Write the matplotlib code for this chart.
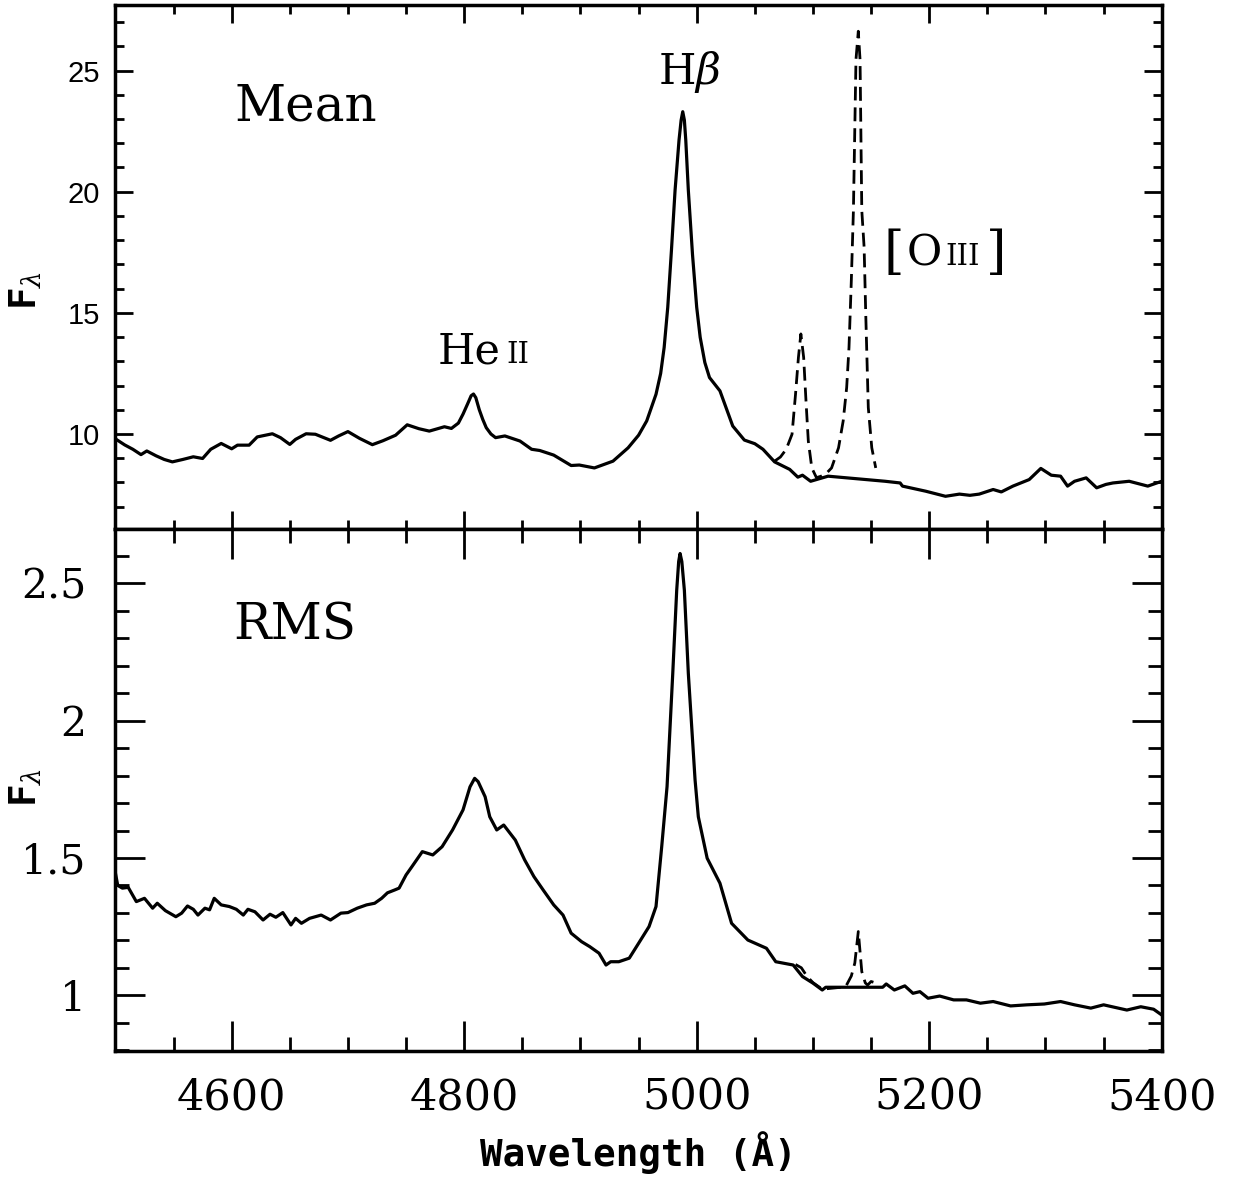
import numpy as np
import matplotlib
matplotlib.use('Agg')
from matplotlib import pyplot as plt
from matplotlib.ticker import MultipleLocator

# mean spectrum, [O III] removed (solid)
mean_wave = [4500, 4508, 4515, 4522, 4527, 4535, 4542, 4549, 4558, 4567,
             4575, 4582, 4591, 4600, 4605, 4615, 4622, 4635, 4642, 4650,
             4655, 4664, 4672, 4685, 4692, 4700, 4710, 4721, 4730, 4741,
             4751, 4761, 4770, 4783, 4789, 4795, 4799, 4803, 4806, 4808,
             4810, 4813, 4816, 4819, 4823, 4827,
             4835, 4848, 4858, 4865, 4877, 4892, 4899, 4912, 4928, 4941,
             4950, 4957, 4965, 4969, 4972, 4975.1, 4978.3, 4981.4, 4984.8, 4986.6,
             4988, 4989.4, 4990.6, 4992.8, 4996.4, 5000,
             5003, 5007, 5011, 5020, 5031, 5041, 5050, 5057, 5067, 5080, 5087,
             5091, 5098, 5113, 5162, 5175, 5177, 5197, 5214, 5226, 5235,
             5243, 5255, 5262, 5272, 5286, 5296, 5305, 5313, 5319, 5325,
             5335, 5344, 5352, 5358, 5372, 5388, 5400]
mean_flux = [9.80, 9.55, 9.37, 9.15, 9.30, 9.10, 8.95, 8.85, 8.95, 9.06,
             8.99, 9.37, 9.61, 9.39, 9.54, 9.54, 9.88, 10.01, 9.85, 9.57,
             9.78, 10.01, 9.99, 9.74, 9.92, 10.10, 9.82, 9.56, 9.72, 9.95,
             10.38, 10.22, 10.12, 10.30, 10.23, 10.45, 10.82, 11.25, 11.58, 11.65,
             11.50, 11.00, 10.60, 10.26, 10.00, 9.85,
             9.92, 9.71, 9.37, 9.32, 9.13, 8.70, 8.72, 8.60, 8.88, 9.43,
             9.95, 10.54, 11.64, 12.50, 13.57, 15.23, 17.60, 20.06, 22.13, 22.95,
             23.30, 22.95, 22.13, 20.06, 17.40, 15.23,
             13.99, 12.95, 12.33, 11.78, 10.33, 9.75, 9.60, 9.37, 8.85, 8.54, 8.22,
             8.30, 8.05, 8.26, 8.05, 7.98, 7.85, 7.64, 7.43, 7.52, 7.47,
             7.52, 7.71, 7.61, 7.85, 8.12, 8.58, 8.30, 8.26, 7.85, 8.05,
             8.19, 7.78, 7.92, 7.98, 8.05, 7.85, 8.05]

# mean spectrum with [O III] lines (dashed)
mean_oiii_wave = [5067, 5072, 5077, 5082, 5085, 5087.5, 5089.6, 5092, 5094, 5096,
                  5099, 5103, 5107, 5112, 5116, 5122, 5126, 5129, 5131, 5133,
                  5134.8, 5137, 5139, 5140.5, 5142, 5144, 5145.4, 5147.6, 5150.6, 5154]
mean_oiii_flux = [8.88, 9.05, 9.37, 9.99, 11.64, 13.16, 14.13, 13.16, 11.37, 9.71,
                  8.60, 8.20, 8.26, 8.40, 8.60, 9.43, 10.54, 11.92, 13.57, 16.33,
                  19.23, 25.45, 26.62, 25.45, 19.23, 17.71, 14.96, 11.09, 9.43, 8.60]

# rms spectrum (solid)
rms_wave = [4500, 4502, 4506, 4511, 4518, 4525, 4532, 4536, 4543, 4552,
            4557, 4562, 4567, 4571, 4577, 4581, 4585, 4591, 4598, 4604,
            4610, 4614, 4620, 4627, 4633, 4638, 4644, 4651, 4655, 4660,
            4667, 4677, 4685, 4694, 4700, 4708, 4716, 4723, 4729, 4734,
            4740, 4744, 4750, 4755, 4764, 4773, 4781, 4790, 4799, 4805,
            4809, 4812, 4818, 4822, 4828, 4834, 4844, 4852, 4860, 4868,
            4877, 4885, 4892, 4901, 4908, 4916, 4922, 4926, 4933, 4942,
            4950, 4959, 4965, 4969.9, 4974.5, 4979.4, 4982.8, 4984.5, 4985.7, 4987.2,
            4989.4, 4992.8, 4998.6, 5001.4, 5009, 5020, 5030, 5044, 5060, 5068, 5083, 5091,
            5100, 5108, 5111, 5160, 5163, 5170, 5179, 5186, 5192, 5199,
            5209, 5221, 5232, 5244, 5255, 5270, 5284, 5299, 5313, 5325,
            5339, 5350, 5370, 5382, 5393, 5400]
rms_flux = [1.445, 1.400, 1.390, 1.393, 1.341, 1.353, 1.317, 1.335, 1.308, 1.286,
            1.299, 1.325, 1.313, 1.292, 1.317, 1.311, 1.353, 1.329, 1.323, 1.313,
            1.292, 1.313, 1.304, 1.274, 1.295, 1.284, 1.301, 1.256, 1.280, 1.262,
            1.280, 1.292, 1.274, 1.299, 1.301, 1.317, 1.329, 1.335, 1.353, 1.373,
            1.383, 1.390, 1.438, 1.468, 1.523, 1.511, 1.541, 1.602, 1.675, 1.759,
            1.790, 1.778, 1.723, 1.650, 1.602, 1.620, 1.565, 1.493, 1.432, 1.383,
            1.329, 1.292, 1.226, 1.195, 1.177, 1.153, 1.110, 1.122, 1.122, 1.135,
            1.189, 1.250, 1.323, 1.541, 1.760, 2.172, 2.475, 2.580, 2.609, 2.580,
            2.475, 2.172, 1.784, 1.650, 1.499, 1.408, 1.262, 1.201, 1.171, 1.122, 1.110, 1.068,
            1.044, 1.019, 1.029, 1.029, 1.041, 1.019, 1.034, 1.007, 1.013, 0.989,
            0.997, 0.983, 0.983, 0.971, 0.977, 0.961, 0.965, 0.968, 0.977, 0.965,
            0.953, 0.965, 0.946, 0.958, 0.949, 0.928]

# rms spectrum with [O III] (dashed)
rms_oiii_wave = [5085, 5090, 5095, 5100, 5108, 5115, 5122, 5128, 5133, 5136,
                 5139, 5142, 5145, 5147, 5150, 5153]
rms_oiii_flux = [1.112, 1.100, 1.068, 1.046, 1.022, 1.025, 1.028, 1.030, 1.070, 1.117,
                 1.232, 1.086, 1.045, 1.037, 1.050, 1.046]

serif = 'DejaVu Serif'
mono = 'DejaVu Sans Mono'
plt.rcParams['mathtext.fontset'] = 'dejavuserif'

fig = plt.figure(figsize=(12.33, 11.80), dpi=100)
ax1 = fig.add_axes([0.0936, 0.5521, 0.8486, 0.4436])
ax2 = fig.add_axes([0.0936, 0.1089, 0.8486, 0.4432])

ax1.plot(mean_oiii_wave, mean_oiii_flux, color='black', lw=2.0, ls=(0, (5, 2.5)))
ax1.plot(mean_wave, mean_flux, color='black', lw=2.3)
ax2.plot(rms_oiii_wave, rms_oiii_flux, color='black', lw=2.0, ls=(0, (5, 2.5)))
ax2.plot(rms_wave, rms_flux, color='black', lw=2.3)

ax1.set_xlim(4500, 5400)
ax2.set_xlim(4500, 5400)
ax1.set_ylim(6.1, 27.7)
ax2.set_ylim(0.795, 2.70)

for ax in (ax1, ax2):
    for s in ax.spines.values():
        s.set_linewidth(2.5)
    ax.xaxis.set_major_locator(MultipleLocator(200))
    ax.xaxis.set_minor_locator(MultipleLocator(50))
    ax.tick_params(which='both', direction='in', top=True, right=True, width=2)

ax1.yaxis.set_major_locator(MultipleLocator(5))
ax1.yaxis.set_minor_locator(MultipleLocator(1))
ax1.tick_params(which='major', length=13)
ax1.tick_params(which='minor', length=6.5)
ax1.tick_params(axis='x', labelbottom=False)
ax1.tick_params(axis='y', pad=11, labelsize=21)
for t in ax1.get_yticklabels():
    t.set_fontfamily('Liberation Sans')

ax2.yaxis.set_major_locator(MultipleLocator(0.5))
ax2.yaxis.set_minor_locator(MultipleLocator(0.1))
ax2.yaxis.set_major_formatter(matplotlib.ticker.FuncFormatter(lambda v, p: '%g' % v))
ax2.tick_params(which='major', length=21.5)
ax2.tick_params(which='minor', length=10)
ax2.tick_params(axis='y', pad=21, labelsize=29.5)
ax2.tick_params(axis='x', pad=18, labelsize=31)
for t in ax2.get_yticklabels() + ax2.get_xticklabels():
    t.set_fontfamily(serif)

ax2.set_xlabel('Wavelength (Å)', family=mono, weight='bold', fontsize=27, labelpad=9)
ax1.set_ylabel(r'F$_\lambda$', family=mono, weight='bold', fontsize=27)
ax2.set_ylabel(r'F$_\lambda$', family=mono, weight='bold', fontsize=27)
ax1.yaxis.set_label_coords(-0.068, 0.455)
ax2.yaxis.set_label_coords(-0.068, 0.505)

# panel names and line labels
ax1.text(4602.8, 22.94, 'Mean', family=serif, fontsize=36, va='baseline')
ax2.text(4601, 2.294, 'RMS', family=serif, fontsize=36, va='baseline')
ax1.text(4966.7, 24.46, r'H$\beta$', family=serif, fontsize=31, va='baseline')
ax1.text(4777.4, 12.93, 'He', family=serif, fontsize=31, va='baseline')
ax1.text(4836, 12.93, 'II', family=serif, fontsize=21, va='baseline')
ax1.text(5160.3, 16.85, '[', family=serif, fontsize=38, va='baseline')
ax1.text(5180.5, 16.96, 'O', family=serif, fontsize=31, va='baseline')
ax1.text(5213.5, 16.96, 'III', family=serif, fontsize=21, va='baseline')
ax1.text(5248.5, 16.85, ']', family=serif, fontsize=38, va='baseline')

fig.savefig('out.png', dpi=100)
